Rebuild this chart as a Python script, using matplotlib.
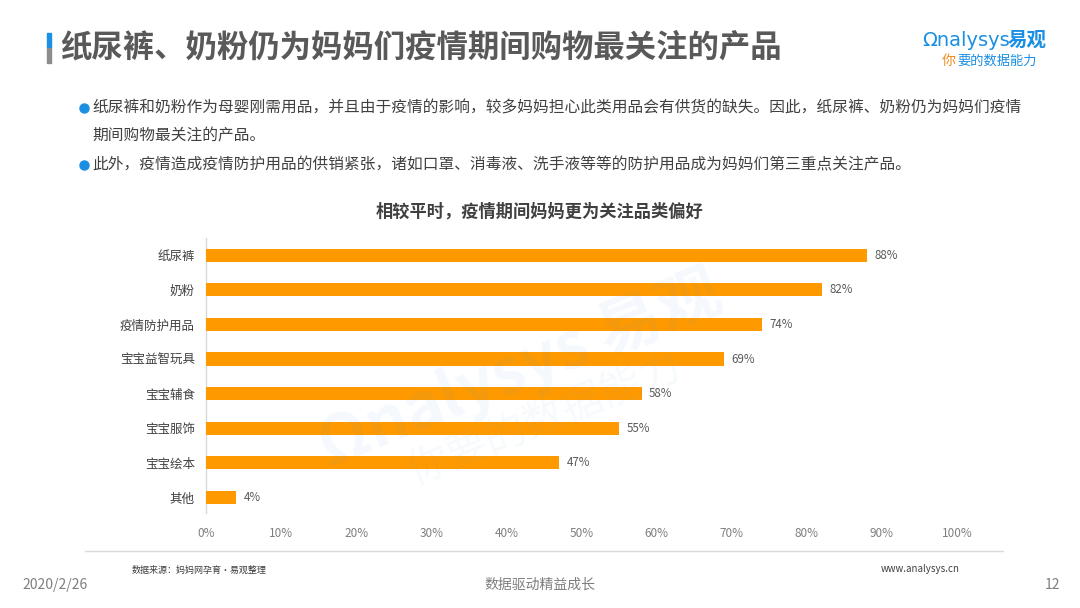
import matplotlib
matplotlib.use("Agg")
import matplotlib.pyplot as plt
from matplotlib.patches import Rectangle
from matplotlib.lines import Line2D

plt.rcParams['font.family'] = ['Noto Sans CJK SC', 'DejaVu Sans']

categories = ["纸尿裤", "奶粉", "疫情防护用品", "宝宝益智玩具", "宝宝辅食", "宝宝服饰", "宝宝绘本", "其他"]
values = [88, 82, 74, 69, 58, 55, 47, 4]
xticks = [0, 10, 20, 30, 40, 50, 60, 70, 80, 90, 100]
xtick_labels = [f"{t}%" for t in xticks]

title = "纸尿裤、奶粉仍为妈妈们疫情期间购物最关注的产品"
chart_title = "相较平时，疫情期间妈妈更为关注品类偏好"
bullet1_l1 = "纸尿裤和奶粉作为母婴刚需用品，并且由于疫情的影响，较多妈妈担心此类用品会有供货的缺失。因此，纸尿裤、奶粉仍为妈妈们疫情"
bullet1_l2 = "期间购物最关注的产品。"
bullet2 = "此外，疫情造成疫情防护用品的供销紧张，诸如口罩、消毒液、洗手液等等的防护用品成为妈妈们第三重点关注产品。"

W, H = 1080, 608
fig = plt.figure(figsize=(W / 100, H / 100), dpi=100)
fig.patch.set_facecolor("white")

def fx(x):
    return x / W

def fy(y):
    return 1 - y / H

# watermark
fig.text(fx(520), fy(370), "Ωnalysys 易观", fontsize=46, color="#4aa3df", alpha=0.06,
         rotation=22, ha="center", va="center", fontweight="bold")
fig.text(fx(545), fy(420), "你要的数据能力", fontsize=30, color="#4aa3df", alpha=0.05,
         rotation=22, ha="center", va="center")

# title accent bar
fig.patches.append(Rectangle((fx(47), fy(48)), fx(4), 15 / H, transform=fig.transFigure,
                             color="#1a8fe3", zorder=5))
fig.patches.append(Rectangle((fx(47), fy(63)), fx(4), 15 / H, transform=fig.transFigure,
                             color="#8c8c8c", zorder=5))
fig.text(fx(60), fy(47), title, fontsize=22.6, fontweight="bold", color="#595959",
         ha="left", va="center")

# logo
fig.text(fx(922), fy(40), "Ωnalysys", fontsize=14, color="#1a8fe3", ha="left", va="center",
         family=["DejaVu Sans"])
fig.text(fx(1008), fy(40), "易观", fontsize=14, color="#1a8fe3", ha="left", va="center",
         fontweight="bold")
fig.text(fx(942), fy(61), "你", fontsize=10, color="#f08a1d", ha="left", va="center", style="italic")
fig.text(fx(957), fy(61), "要的数据能力", fontsize=9.5, color="#1a8fe3", ha="left", va="center",
         style="italic")

# bullets
for yb in (108, 165):
    fig.lines.append(Line2D([fx(84)], [fy(yb)], transform=fig.transFigure, marker="o",
                            markersize=6.5, color="#1a8fe3", linestyle="none"))
txt_kw = dict(fontsize=11.3, color="#404040", ha="left", va="center")
fig.text(fx(92), fy(108), bullet1_l1, **txt_kw)
fig.text(fx(92), fy(136), bullet1_l2, **txt_kw)
fig.text(fx(92), fy(165), bullet2, **txt_kw)

# chart title
fig.text(fx(540), fy(212), chart_title, fontsize=12.4, fontweight="bold", color="#404040",
         ha="center", va="center")

# axes
ax = fig.add_axes([fx(206), fy(513), fx(957) - fx(206), (513 - 238) / H])
y = list(range(len(categories)))
ax.barh(y, values, height=0.38, color="#FF9900", zorder=3)
ax.set_xlim(0, 100)
ax.set_ylim(7.45, -0.5)
ax.set_yticks(y)
ax.set_yticklabels(categories, fontsize=9, color="#404040")
ax.set_xticks(xticks)
ax.set_xticklabels(xtick_labels, fontsize=8.5, color="#7f7f7f")
ax.tick_params(axis="both", length=0)
ax.tick_params(axis="x", pad=10)
ax.tick_params(axis="y", pad=8)
for s in ("top", "right", "bottom"):
    ax.spines[s].set_visible(False)
ax.spines["left"].set_color("#d9d9d9")
ax.spines["left"].set_linewidth(1)
ax.set_facecolor("none")
for yi, v in zip(y, values):
    ax.text(v + 1, yi, f"{v}%", fontsize=8.3, color="#595959", ha="left", va="center")

# separator line
fig.lines.append(Line2D([fx(85), fx(1003)], [fy(551), fy(551)], transform=fig.transFigure,
                        color="#d9d9d9", linewidth=1))

# footer
fig.text(fx(132), fy(570), "数据来源：妈妈网孕育·易观整理", fontsize=6.5, color="#404040",
         ha="left", va="center")
fig.text(fx(960), fy(569), "www.analysys.cn", fontsize=7, color="#404040", ha="right", va="center")
fig.text(fx(22), fy(585), "2020/2/26", fontsize=10, color="#7f7f7f", ha="left", va="center")
fig.text(fx(540), fy(585), "数据驱动精益成长", fontsize=10, color="#7f7f7f", ha="center", va="center")
fig.text(fx(1060), fy(585), "12", fontsize=10, color="#7f7f7f", ha="right", va="center")

fig.savefig("out.png", dpi=100, facecolor="white")
